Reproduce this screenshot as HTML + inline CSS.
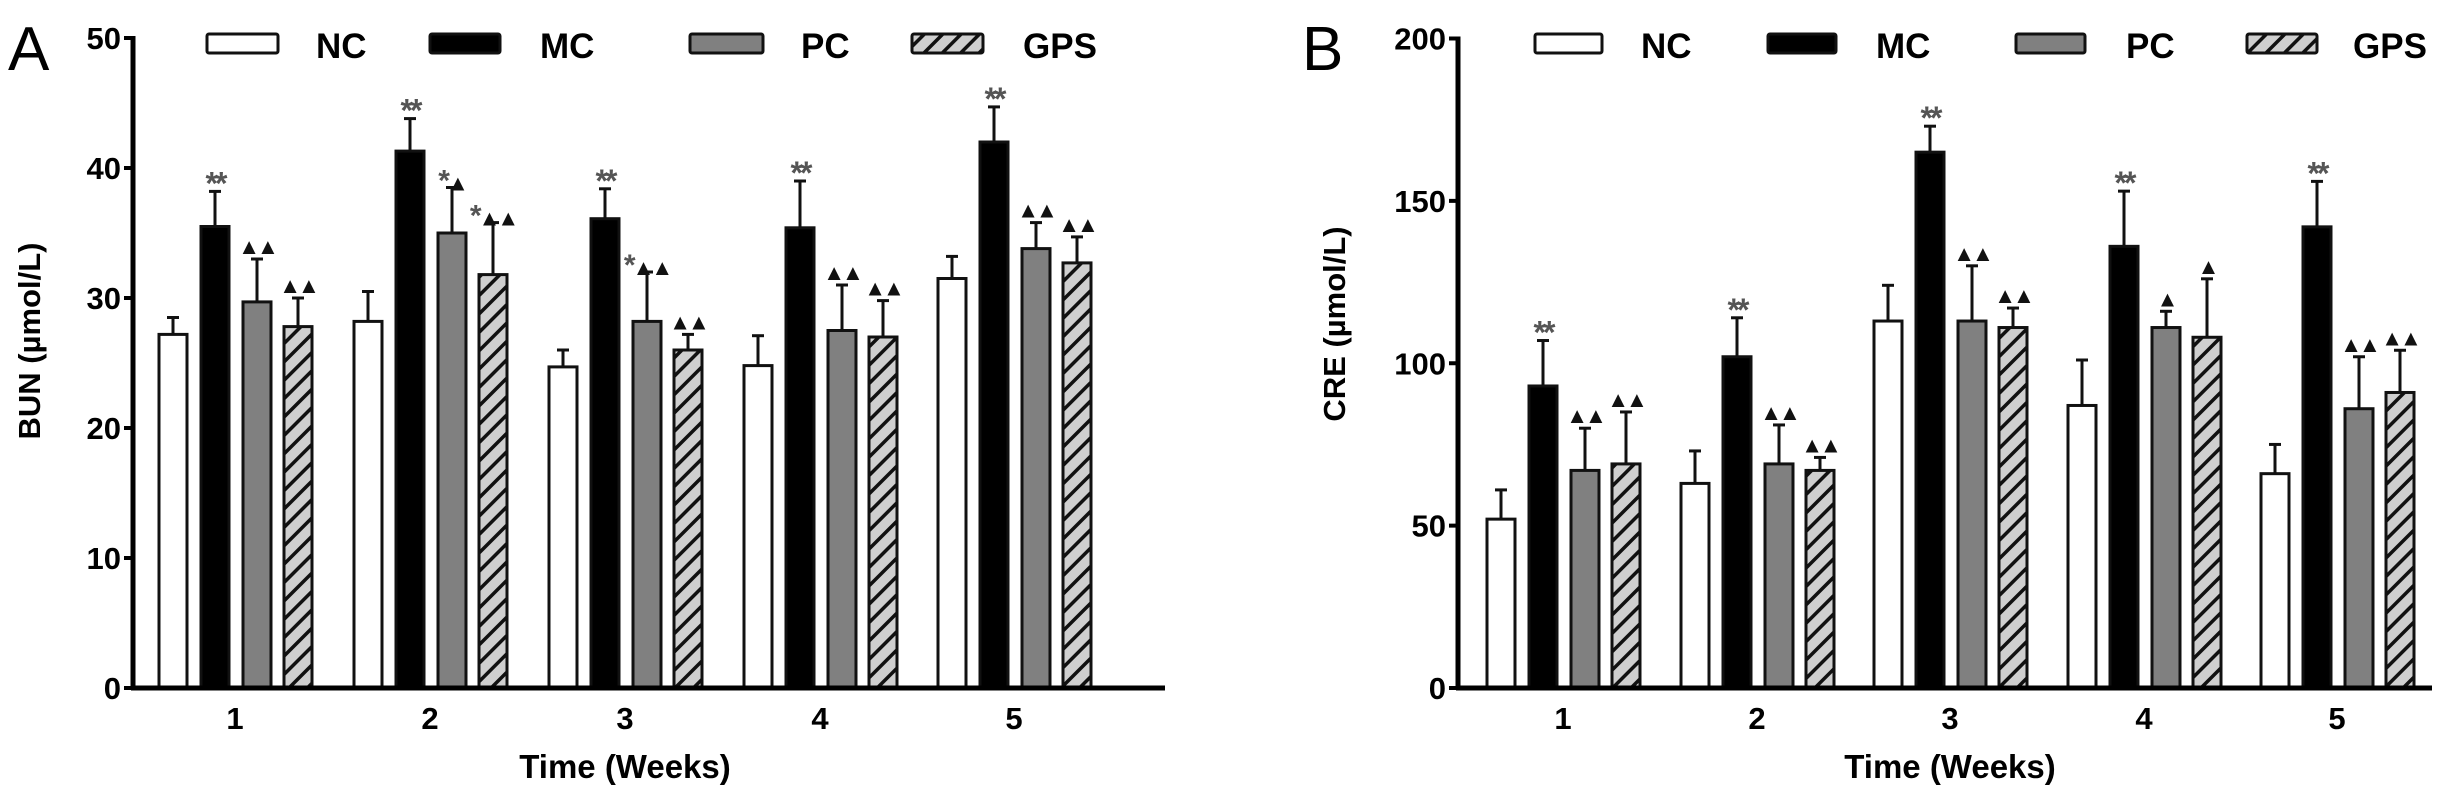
<!DOCTYPE html>
<html><head><meta charset="utf-8"><style>
html,body{margin:0;padding:0;background:#fff;}
svg{display:block;font-family:"Liberation Sans",Arial,sans-serif;}
</style></head><body>
<svg id="s" width="2451" height="806" viewBox="0 0 2451 806" xmlns="http://www.w3.org/2000/svg">
<defs>
<pattern id="h" patternUnits="userSpaceOnUse" width="13" height="13" patternTransform="rotate(45)">
<rect width="13" height="13" fill="#cfcfcf"/><rect x="0" y="0" width="3.5" height="13" fill="#111"/>
</pattern>
</defs>
<g id="g"></g>
</svg>
<script>
const g=document.getElementById('g');let h='';
function panel(ax,zeroY,topY,max,step,xEnd,centers,data,ylabel,ylx,yly,letter,lx,leg){
  const sc=(zeroY-topY)/max;const Y=v=>zeroY-v*sc;
  const off=[-62,-20,22,63],fills=['#fff','#000','#808080','url(#h)'];
  data.forEach((grp,i)=>{grp.forEach((d,j)=>{const cx=centers[i]+off[j],w=28;
    const y=Y(d[0]),ye=Y(d[1]);
    h+=`<line x1="${cx}" y1="${y}" x2="${cx}" y2="${ye}" stroke="#111" stroke-width="3"/>`;
    h+=`<line x1="${cx-6}" y1="${ye}" x2="${cx+6}" y2="${ye}" stroke="#111" stroke-width="3"/>`;
    h+=`<rect x="${cx-w/2}" y="${y}" width="${w}" height="${zeroY-y}" fill="${fills[j]}" stroke="#111" stroke-width="3"/>`;
    if(d[2]){const t=d[2];
      const parts=t.replace(/\*/g,'<tspan font-size="30" fill="#555" dy="8">*</tspan>');
      h+=`<text x="${cx}" y="${ye-5}" text-anchor="middle" font-size="22" font-weight="bold" letter-spacing="-3" fill="#111">${t.includes('*')&&!t.includes('▲')?`<tspan font-size="32" fill="#555" dy="8">${t}</tspan>`:parts}</text>`;}
  });});
  h+=`<line x1="${ax}" y1="${topY-2}" x2="${ax}" y2="${zeroY+2}" stroke="#000" stroke-width="5"/>`;
  h+=`<line x1="${ax-2}" y1="${zeroY}" x2="${xEnd}" y2="${zeroY}" stroke="#000" stroke-width="5"/>`;
  for(let v=0;v<=max;v+=step){const y=Y(v);
    h+=`<line x1="${ax-9}" y1="${y}" x2="${ax}" y2="${y}" stroke="#000" stroke-width="4"/>`;
    h+=`<text x="${ax-12}" y="${y+11}" text-anchor="end" font-size="31" font-weight="bold">${v}</text>`;}
  centers.forEach((c,i)=>{h+=`<text x="${c}" y="${zeroY+41}" text-anchor="middle" font-size="31" font-weight="bold">${i+1}</text>`;});
  h+=`<text x="${centers[2]}" y="${zeroY+90}" text-anchor="middle" font-size="33" font-weight="bold">Time (Weeks)</text>`;
  h+=`<text transform="translate(${ylx},${yly}) rotate(-90)" text-anchor="middle" font-size="31" font-weight="bold">${ylabel}</text>`;
  h+=`<text x="${lx}" y="70" font-size="62">${letter}</text>`;
  const names=['NC','MC','PC','GPS'];
  leg.forEach((l,j)=>{h+=`<rect x="${l[0]}" y="34" width="${l[1]-l[0]}" height="19" rx="2" fill="${j==3?'url(#h)':fills[j]}" stroke="#111" stroke-width="3"/>`;
    h+=`<text x="${l[2]}" y="58" font-size="35" font-weight="bold">${names[j]}</text>`;});
}
const A=[
[[27.2,28.5],[35.5,38.2,'**'],[29.7,33,'▲▲'],[27.8,30,'▲▲']],
[[28.2,30.5],[41.3,43.8,'**'],[35,38.5,'*▲'],[31.8,35.8,'*▲▲']],
[[24.7,26],[36.1,38.4,'**'],[28.2,32,'*▲▲'],[26,27.2,'▲▲']],
[[24.8,27.1],[35.4,39,'**'],[27.5,31,'▲▲'],[27,29.8,'▲▲']],
[[31.5,33.2],[42,44.7,'**'],[33.8,35.8,'▲▲'],[32.7,34.7,'▲▲']]];
const B=[
[[52,61],[93,107,'**'],[67,80,'▲▲'],[69,85,'▲▲']],
[[63,73],[102,114,'**'],[69,81,'▲▲'],[67,71,'▲▲']],
[[113,124],[165,173,'**'],[113,130,'▲▲'],[111,117,'▲▲']],
[[87,101],[136,153,'**'],[111,116,'▲'],[108,126,'▲']],
[[66,75],[142,156,'**'],[86,102,'▲▲'],[91,104,'▲▲']]];
panel(133,688,38,50,10,1165,[235,430,625,820,1014],A,'BUN (µmol/L)',40,341,'A',8,
 [[207,278,316],[430,500,540],[690,763,801],[912,983,1023]]);
panel(1458,688,38.5,200,50,2432,[1563,1757,1950,2144,2337],B,'CRE (µmol/L)',1345,324,'B',1302,
 [[1535,1602,1641],[1768,1836,1876],[2016,2085,2126],[2247,2317,2353]]);
g.innerHTML=h;
</script>
</body></html>
